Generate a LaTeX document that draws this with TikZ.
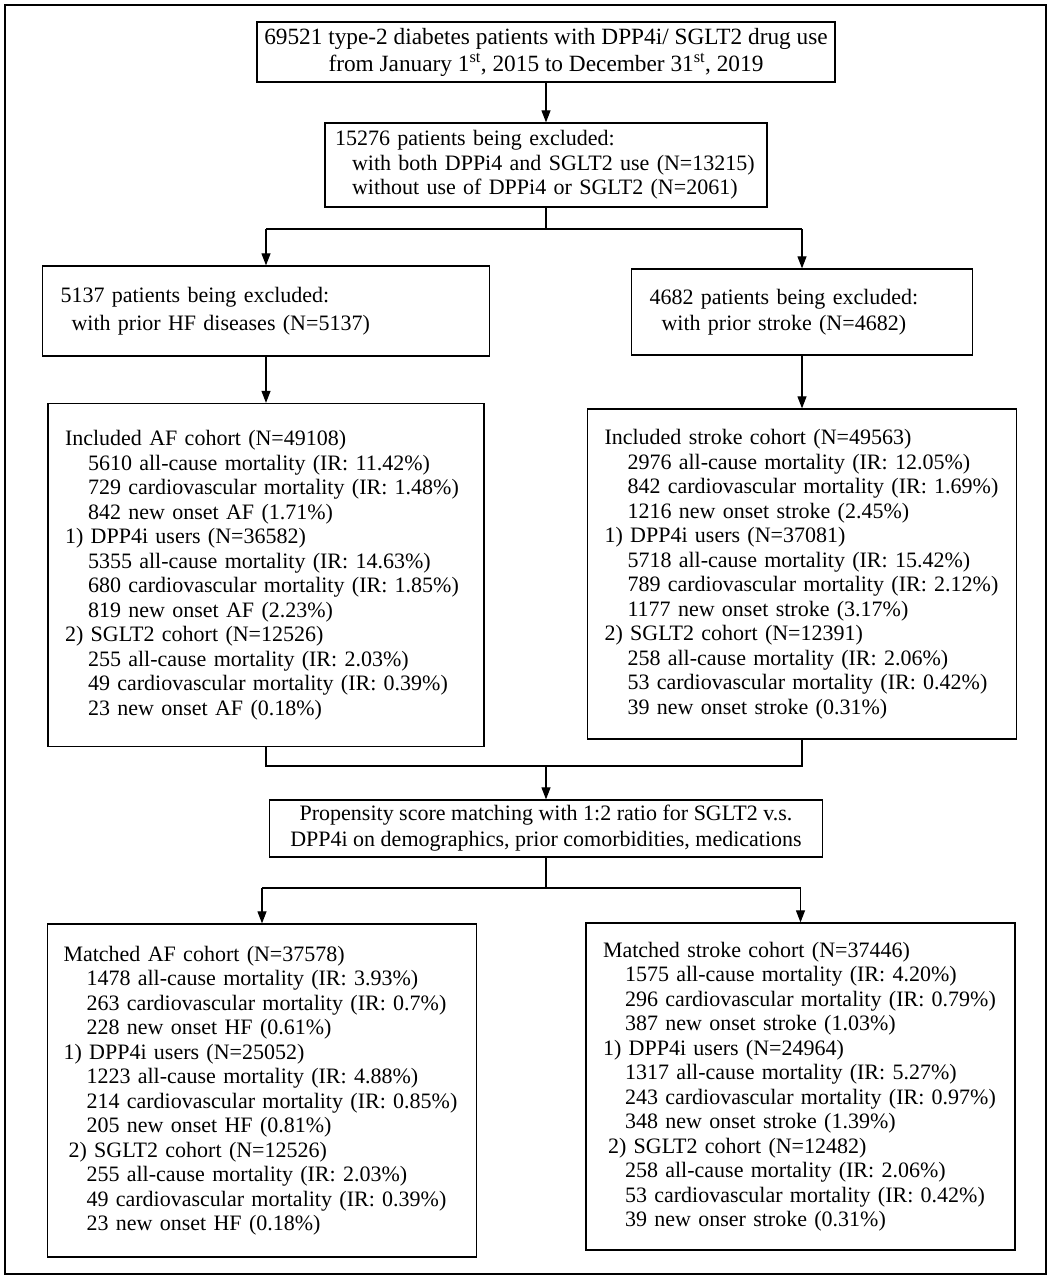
\documentclass[tikz,border=0pt]{standalone}
\usepackage{fontspec}
\setmainfont{Liberation Serif}
\usetikzlibrary{arrows.meta}
\begin{document}
\begin{tikzpicture}[x=1pt,y=-1pt,
  box/.style={draw, line width=1.3pt, inner ysep=0pt, font=\fontsize{22}{24.5}\selectfont},
  lbox/.style={box, align=left},
  cbox/.style={box, align=center, font=\fontsize{23.3}{25}\selectfont},
  conn/.style={line width=1.1pt},
  arr/.style={conn, -{Triangle[width=9pt,length=12pt]}}
]
\useasboundingbox (0,0) rectangle (1052,1280);
\draw[line width=1.3pt] (5,5) rectangle (1046,1274);

\node[cbox, minimum width=578pt, minimum height=60pt] (b1) at (546,52)
  {69521 type-2 diabetes patients with DPP4i/ SGLT2 drug use\\[2pt]
   from January 1\textsuperscript{st}, 2015 to December 31\textsuperscript{st}, 2019};

\node[lbox, minimum width=442pt, minimum height=84pt, inner xsep=10pt, text width=422pt] (b2) at (546,165)
  {15276 patients being excluded:\\
   \hspace*{17pt}with both DPPi4 and SGLT2 use (N=13215)\\
   \hspace*{17pt}without use of DPPi4 or SGLT2 (N=2061)};

\node[lbox, minimum width=447pt, minimum height=90pt, inner xsep=18pt, text width=411pt] (b3l) at (266,311)
  {5137 patients being excluded:\\[3.5pt]
   \hspace*{11pt}with prior HF diseases (N=5137)};

\node[lbox, minimum width=341pt, minimum height=86pt, inner xsep=18pt, text width=305pt] (b3r) at (802,312)
  {4682 patients being excluded:\\[1.5pt]
   \hspace*{12pt}with prior stroke (N=4682)};

\node[lbox, minimum width=436pt, minimum height=343pt, inner xsep=17pt, text width=402pt] (b4l) at (266,575)
  {Included AF cohort (N=49108)\\
   \hspace*{23pt}5610 all-cause mortality (IR: 11.42\%)\\
   \hspace*{23pt}729 cardiovascular mortality (IR: 1.48\%)\\
   \hspace*{23pt}842 new onset AF (1.71\%)\\
   1) DPP4i users (N=36582)\\
   \hspace*{23pt}5355 all-cause mortality (IR: 14.63\%)\\
   \hspace*{23pt}680 cardiovascular mortality (IR: 1.85\%)\\
   \hspace*{23pt}819 new onset AF (2.23\%)\\
   2) SGLT2 cohort (N=12526)\\
   \hspace*{23pt}255 all-cause mortality (IR: 2.03\%)\\
   \hspace*{23pt}49 cardiovascular mortality (IR: 0.39\%)\\
   \hspace*{23pt}23 new onset AF (0.18\%)};

\node[lbox, minimum width=429pt, minimum height=330pt, inner xsep=17pt, text width=395pt] (b4r) at (802,574)
  {Included stroke cohort (N=49563)\\
   \hspace*{23pt}2976 all-cause mortality (IR: 12.05\%)\\
   \hspace*{23pt}842 cardiovascular mortality (IR: 1.69\%)\\
   \hspace*{23pt}1216 new onset stroke (2.45\%)\\
   1) DPP4i users (N=37081)\\
   \hspace*{23pt}5718 all-cause mortality (IR: 15.42\%)\\
   \hspace*{23pt}789 cardiovascular mortality (IR: 2.12\%)\\
   \hspace*{23pt}1177 new onset stroke (3.17\%)\\
   2) SGLT2 cohort (N=12391)\\
   \hspace*{23pt}258 all-cause mortality (IR: 2.06\%)\\
   \hspace*{23pt}53 cardiovascular mortality (IR: 0.42\%)\\
   \hspace*{23pt}39 new onset stroke (0.31\%)};

\node[cbox, minimum width=553pt, minimum height=57pt, font=\fontsize{22}{25}\selectfont] (ps) at (546,828.5)
  {Propensity score matching with 1:2 ratio for SGLT2 v.s.\\[1pt]
   DPP4i on demographics, prior comorbidities, medications};

\node[lbox, minimum width=429pt, minimum height=333pt, inner xsep=16pt, text width=397pt] (b5l) at (262,1090.5)
  {Matched AF cohort (N=37578)\\
   \hspace*{23pt}1478 all-cause mortality (IR: 3.93\%)\\
   \hspace*{23pt}263 cardiovascular mortality (IR: 0.7\%)\\
   \hspace*{23pt}228 new onset HF (0.61\%)\\
   1) DPP4i users (N=25052)\\
   \hspace*{23pt}1223 all-cause mortality (IR: 4.88\%)\\
   \hspace*{23pt}214 cardiovascular mortality (IR: 0.85\%)\\
   \hspace*{23pt}205 new onset HF (0.81\%)\\
   \hspace*{5pt}2) SGLT2 cohort (N=12526)\\
   \hspace*{23pt}255 all-cause mortality (IR: 2.03\%)\\
   \hspace*{23pt}49 cardiovascular mortality (IR: 0.39\%)\\
   \hspace*{23pt}23 new onset HF (0.18\%)};

\node[lbox, minimum width=429pt, minimum height=327pt, inner xsep=17pt, text width=395pt] (b5r) at (800.5,1086.5)
  {Matched stroke cohort (N=37446)\\
   \hspace*{22pt}1575 all-cause mortality (IR: 4.20\%)\\
   \hspace*{22pt}296 cardiovascular mortality (IR: 0.79\%)\\
   \hspace*{22pt}387 new onset stroke (1.03\%)\\
   1) DPP4i users (N=24964)\\
   \hspace*{22pt}1317 all-cause mortality (IR: 5.27\%)\\
   \hspace*{22pt}243 cardiovascular mortality (IR: 0.97\%)\\
   \hspace*{22pt}348 new onset stroke (1.39\%)\\
   \hspace*{5pt}2) SGLT2 cohort (N=12482)\\
   \hspace*{22pt}258 all-cause mortality (IR: 2.06\%)\\
   \hspace*{22pt}53 cardiovascular mortality (IR: 0.42\%)\\
   \hspace*{22pt}39 new onser stroke (0.31\%)};

% connectors
\draw[arr] (b1) -- (b2);
\coordinate (s1) at (546,229);
\coordinate (s1l) at (266,229);
\coordinate (s1r) at (802,229);
\draw[conn] (b2) -- (s1);
\draw[conn] (s1l) -- (s1r);
\draw[arr] (s1l) -- (b3l);
\draw[arr] (s1r) -- (b3r);
\draw[arr] (b3l) -- (b4l);
\draw[arr] (b3r) -- (b4r);

\coordinate (m1l) at (266,766);
\coordinate (m1r) at (802,766);
\coordinate (m1) at (546,766);
\draw[conn] (b4l) -- (m1l) -- (m1r) -- (b4r);
\draw[arr] (m1) -- (ps);

\coordinate (s2) at (546,888);
\coordinate (s2l) at (262,888);
\coordinate (s2r) at (800.5,888);
\draw[conn] (ps) -- (s2);
\draw[conn] (s2l) -- (s2r);
\draw[arr] (s2l) -- (b5l);
\draw[arr] (s2r) -- (b5r);
\end{tikzpicture}
\end{document}
